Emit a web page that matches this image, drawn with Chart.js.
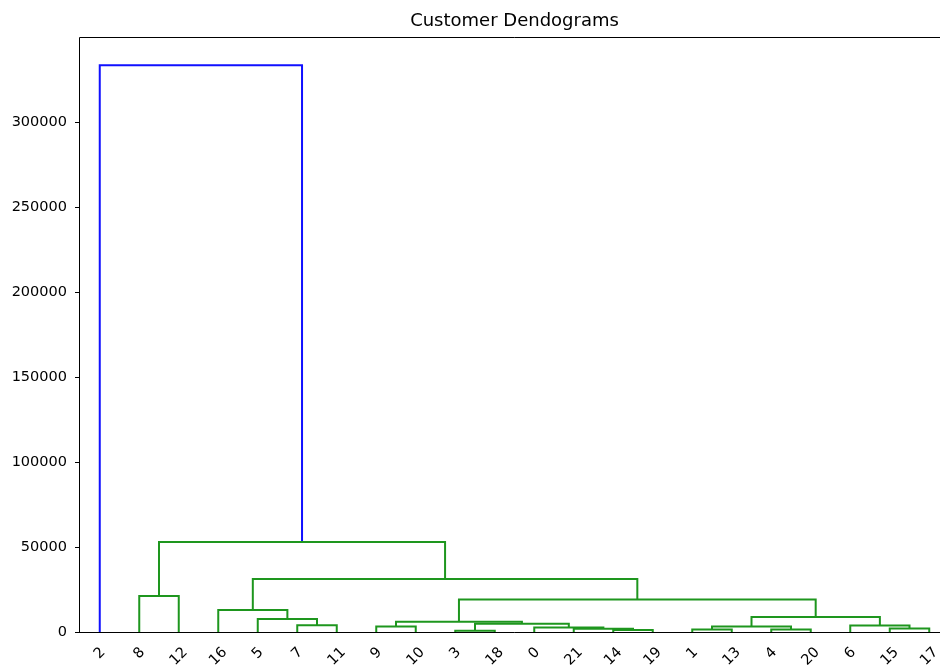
<html>
<head>
    <style>
        html, body { margin: 0; padding: 0; overflow: hidden; background: #fff; }
        #canvas { display: block; }
    </style>
    <script src="https://cdn.jsdelivr.net/npm/chart.js@4.4.0/dist/chart.umd.min.js"></script>
</head>
<body>
    <canvas id="canvas" width="950" height="666"></canvas>
    <script>
        // leaves, in the order they appear along the bottom
        var leafLabels = ['2', '8', '12', '16', '5', '7', '11', '9', '10', '3', '18', '0', '21', '14', '19', '1', '13', '4', '20', '6', '15', '17'];

        // merges: 'cN' is the cluster made by merge N
        var mergeLeft  = ['8', '7', '5', '16', '9', '3', '14', '21', '0', 'c5', 'c4', '1', '4', 'c11', '15', '6', 'c13', 'c10', 'c3', 'c0', '2'];
        var mergeRight = ['12', '11', 'c1', 'c2', '10', '18', '19', 'c6', 'c7', 'c8', 'c9', '13', '20', 'c12', '17', 'c14', 'c15', 'c16', 'c17', 'c18', 'c19'];
        var mergeHeight = [21200, 4000, 7600, 13000, 3300, 800, 1200, 1900, 2700, 4800, 6000, 1500, 1500, 3300, 2000, 3900, 8800, 19200, 31200, 53000, 333700];

        var yTickValues = [0, 50000, 100000, 150000, 200000, 250000, 300000];

        var nodeX = {}, nodeY = {};
        leafLabels.forEach(function(l, i) {
            nodeX[l] = 5 + 10 * i;
            nodeY[l] = 0;
        });

        var threshold = 0.7 * Math.max.apply(null, mergeHeight);
        var datasets = [];
        mergeHeight.forEach(function(h, k) {
            var a = mergeLeft[k], b = mergeRight[k];
            var xa = nodeX[a], xb = nodeX[b];
            nodeX['c' + k] = (xa + xb) / 2;
            nodeY['c' + k] = h;
            var col = h > threshold ? '#1010ff' : '#1e961e';
            datasets.push({
                data: [{x: xa, y: nodeY[a]}, {x: xa, y: h}, {x: xb, y: h}, {x: xb, y: nodeY[b]}],
                borderColor: col,
                borderWidth: 2,
                showLine: true,
                pointRadius: 0,
                fill: false,
                tension: 0,
                clip: false
            });
        });

        var tickFont = 14.5;

        var spines = {
            id: 'spines',
            afterDatasetsDraw: function(chart) {
                var a = chart.chartArea, c = chart.ctx;
                c.save();
                c.strokeStyle = '#000';
                c.lineWidth = 1;
                c.beginPath();
                c.moveTo(a.left - 0.5, a.bottom + 0.5);
                c.lineTo(a.left - 0.5, a.top - 0.5);
                c.lineTo(a.right, a.top - 0.5);
                c.moveTo(a.left - 0.5, a.bottom + 0.5);
                c.lineTo(a.right, a.bottom + 0.5);
                c.stroke();
                c.restore();
            }
        };

        // rotated leaf labels, centred under each leaf like matplotlib
        var leafTicks = {
            id: 'leafTicks',
            afterDraw: function(chart) {
                var c = chart.ctx, xs = chart.scales.x, a = chart.chartArea;
                c.save();
                c.font = tickFont + 'px "DejaVu Sans"';
                c.fillStyle = '#000';
                c.textAlign = 'center';
                c.textBaseline = 'middle';
                leafLabels.forEach(function(l, i) {
                    var w = c.measureText(l).width;
                    var h = tickFont * 1.17;
                    var cx = xs.getPixelForValue(5 + 10 * i);
                    var cy = a.bottom + 12 + (w + h) / (2 * Math.SQRT2);
                    c.save();
                    c.translate(cx, cy);
                    c.rotate(-Math.PI / 4);
                    c.fillText(l, 0, 0);
                    c.restore();
                });
                c.restore();
            }
        };

        var ctx = document.getElementById('canvas').getContext('2d');
        var chart = new Chart(ctx, {
            type: 'scatter',
            data: { datasets: datasets },
            options: {
                responsive: false,
                animation: false,
                layout: { padding: { top: 0, right: 1, bottom: 0, left: 0 } },
                plugins: {
                    legend: { display: false },
                    tooltip: { enabled: false },
                    title: {
                        display: true,
                        text: 'Customer Dendograms',
                        fullSize: false,
                        color: '#000',
                        font: { family: 'DejaVu Sans', size: 18, weight: 'normal' },
                        padding: { top: 11, bottom: 5.4 }
                    }
                },
                scales: {
                    x: {
                        type: 'linear',
                        min: 0,
                        max: 220,
                        grid: { display: false },
                        border: { display: false },
                        ticks: { display: false },
                        afterFit: function(s) {
                            s.height = 34;
                            s.paddingLeft = 0;
                            s.paddingRight = 0;
                        }
                    },
                    y: {
                        min: 0,
                        max: 349800,
                        border: { display: false },
                        grid: {
                            drawOnChartArea: false,
                            drawTicks: true,
                            tickLength: 5,
                            tickColor: '#000',
                            tickWidth: 1
                        },
                        ticks: {
                            color: '#000',
                            padding: 8,
                            font: { family: 'DejaVu Sans', size: tickFont },
                            callback: function(v) { return String(v); }
                        },
                        afterBuildTicks: function(s) {
                            s.ticks = yTickValues.map(function(v) { return {value: v}; });
                        },
                        afterFit: function(s) {
                            s.width = 80;
                        }
                    }
                }
            },
            plugins: [spines, leafTicks]
        });
    </script>
</body>
</html>
